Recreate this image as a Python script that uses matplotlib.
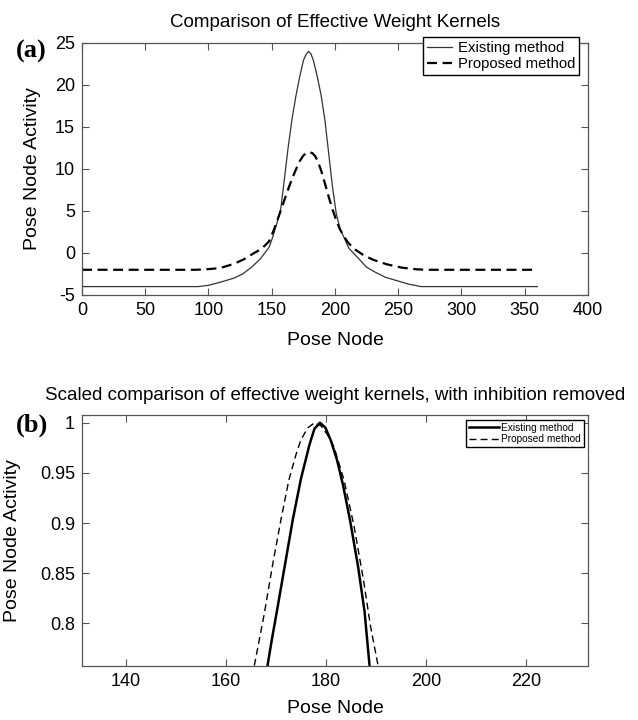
import numpy as np
import matplotlib
matplotlib.use('Agg')
import matplotlib.pyplot as plt

plt.rcParams['font.family'] = ['Liberation Sans', 'DejaVu Sans']
plt.rcParams['axes.unicode_minus'] = False

# (a) raw effective weight kernels
x_exist = [0, 92, 100, 110, 120, 127, 134, 141, 148, 151, 154, 157, 160, 163, 166, 169, 172, 175, 177,
           179, 181, 183, 186, 189, 192, 195, 198, 201, 204, 207, 211, 218, 225, 232, 240, 249, 258, 268, 360]
y_exist = [-4.0, -4.0, -3.85, -3.45, -3.0, -2.5, -1.7, -0.7, 0.7, 2.0, 3.5, 5.1, 8.8, 12.6, 15.9, 18.6, 20.9, 22.9, 23.6,
           24.0, 23.7, 22.9, 21.0, 18.8, 15.85, 11.9, 7.9, 4.7, 2.85, 1.9, 0.55, -0.55, -1.7, -2.3, -2.9, -3.3, -3.7, -4.0, -4.0]

x_prop = [0, 90, 100, 109, 120, 128, 135, 142, 148, 151, 154, 157, 160, 163, 166, 169, 172, 175, 177.5,
          179.5, 182, 184.5, 187, 189.5, 192, 195, 198, 201, 204, 207, 210, 215, 222, 230, 241, 253, 265, 275, 360]
y_prop = [-2.0, -2.0, -1.92, -1.8, -1.3, -0.75, -0.1, 0.5, 1.4, 2.5, 3.7, 5.0, 6.3, 7.6, 8.8, 9.9, 10.9, 11.6, 11.95,
          12.0, 11.9, 11.5, 10.7, 9.6, 8.3, 6.7, 5.2, 3.9, 2.8, 2.0, 1.3, 0.5, -0.2, -0.8, -1.35, -1.75, -1.95, -2.0, -2.0]

# (b) scaled kernels, zoomed around the peak
x_exist_s = [168.3, 169.2, 170.2, 171.8, 173.4, 175.0, 176.7, 177.7, 178.8, 179.9, 181.0, 182.2, 183.4,
             184.8, 186.4, 187.7, 188.7]
y_exist_s = [0.757, 0.784, 0.812, 0.858, 0.904, 0.944, 0.978, 0.994, 1.0, 0.995, 0.982, 0.963, 0.938,
             0.903, 0.857, 0.812, 0.758]

x_prop_s = [165.7, 167.7, 169.3, 171.0, 172.6, 174.0, 175.0, 176.4, 177.7, 179.0, 180.3, 181.6, 183.6,
            185.6, 187.5, 188.9, 190.4]
y_prop_s = [0.758, 0.810, 0.857, 0.903, 0.943, 0.968, 0.983, 0.995, 1.0, 0.997, 0.988, 0.976, 0.943,
            0.897, 0.843, 0.797, 0.758]

labels = ['Existing method', 'Proposed method']


def style_axes(ax):
    # matlab look: ticks inside on all four sides, grey frame
    for s in ax.spines.values():
        s.set_color('#555555')
        s.set_linewidth(0.9)
    ax.tick_params(direction='in', top=True, right=True, length=5, width=0.8,
                   colors='#555555', labelcolor='black', labelsize=13, pad=5)


fig = plt.figure(figsize=(6.38, 7.2), dpi=100)

# ---- panel (a)
ax1 = fig.add_axes([0.1285, 0.5903, 0.7931, 0.35])
ax1.plot(x_exist, y_exist, color='#333333', lw=0.9, label=labels[0])
ax1.plot(x_prop, y_prop, color='black', lw=1.6, dashes=(4.5, 2.5), label=labels[1])
ax1.set_xlim(0, 400)
ax1.set_ylim(-5, 25)
ax1.set_xticks(np.arange(0, 401, 50))
ax1.set_yticks(np.arange(-5, 26, 5))
style_axes(ax1)
ax1.set_title('Comparison of Effective Weight Kernels', fontsize=13.5, pad=11.5)
ax1.set_xlabel('Pose Node', fontsize=14)
ax1.set_ylabel('Pose Node Activity', fontsize=14)
ax1.yaxis.set_label_coords(-0.081, 0.5)
ax1.xaxis.set_label_coords(0.5, -0.148)
ax1.legend(loc='upper right', bbox_to_anchor=(579 / 638, 1 - 37 / 720), bbox_transform=fig.transFigure,
           fontsize=10.7, frameon=True, fancybox=False, edgecolor='black', framealpha=1,
           borderpad=0.25, labelspacing=0.15, handlelength=1.7, handletextpad=0.4, borderaxespad=0)
fig.text(31 / 638, 1 - 51 / 720, '(a)', family='Liberation Serif', weight='bold', fontsize=19,
         ha='center', va='center')

# ---- panel (b)
ax2 = fig.add_axes([0.1285, 0.075, 0.7931, 0.3486])
ax2.plot(x_exist_s, y_exist_s, color='black', lw=1.8, label=labels[0])
ax2.plot(x_prop_s, y_prop_s, color='black', lw=1.0, dashes=(5, 3), label=labels[1])
ax2.set_xlim(131.3, 232.3)
ax2.set_ylim(0.7576, 1.0077)
ax2.set_xticks(np.arange(140, 221, 20))
ax2.set_yticks([0.8, 0.85, 0.9, 0.95, 1.0])
ax2.set_yticklabels(['0.8', '0.85', '0.9', '0.95', '1'])
style_axes(ax2)
ax2.set_title('Scaled comparison of effective weight kernels, with inhibition removed',
              fontsize=13.5, pad=11)
ax2.set_xlabel('Pose Node', fontsize=14)
ax2.set_ylabel('Pose Node Activity', fontsize=14)
ax2.yaxis.set_label_coords(-0.12, 0.5)
ax2.xaxis.set_label_coords(0.5, -0.135)
ax2.legend(loc='upper right', bbox_to_anchor=(584 / 638, 1 - 420 / 720), bbox_transform=fig.transFigure,
           fontsize=7.3, frameon=True, fancybox=False, edgecolor='black', framealpha=1,
           borderpad=0.3, labelspacing=0.1, handlelength=3.0, handletextpad=0.2, borderaxespad=0)
fig.text(32 / 638, 1 - 425 / 720, '(b)', family='Liberation Serif', weight='bold', fontsize=19,
         ha='center', va='center')

fig.savefig('out.png', dpi=100)
